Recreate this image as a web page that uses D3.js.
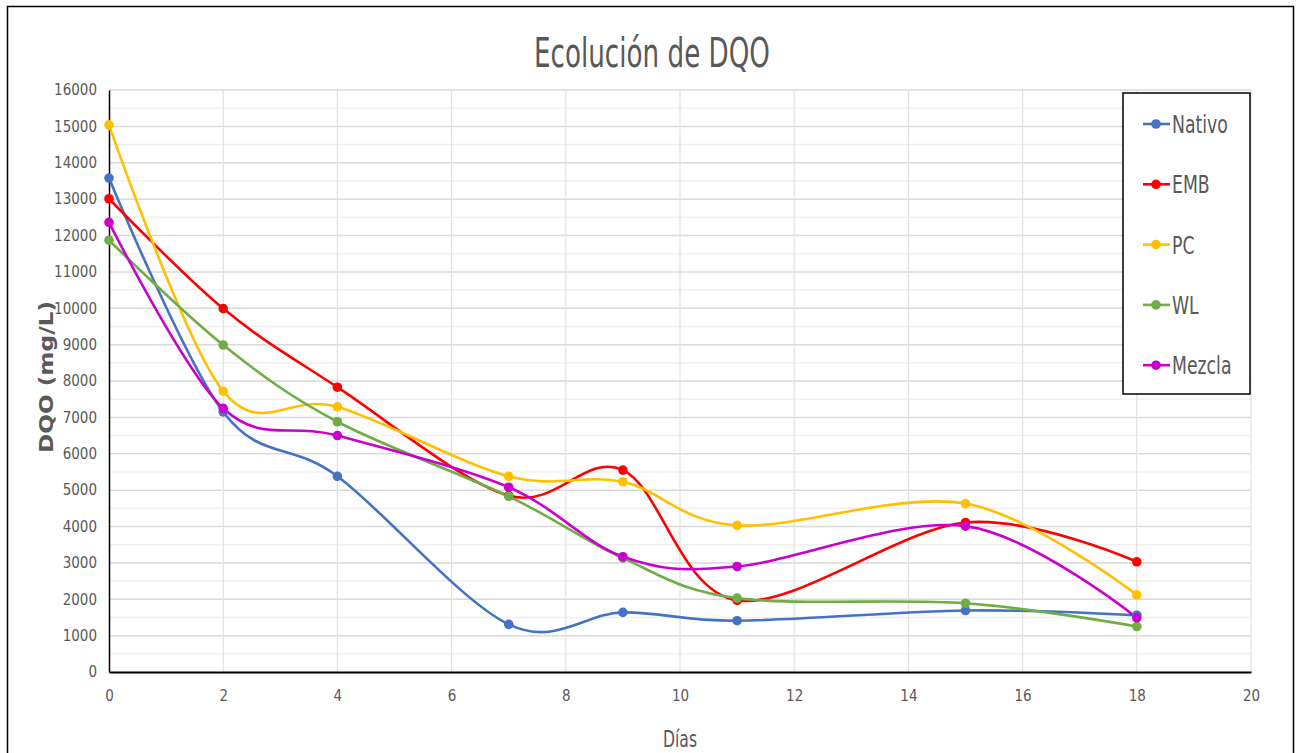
<!DOCTYPE html>
<html><head><meta charset="utf-8">
<script src="https://cdn.jsdelivr.net/npm/d3@7"></script>
<style>body{margin:0;background:#fff;} svg{display:block;}</style>
</head><body>
<script>
const days = [0, 2, 4, 7, 9, 11, 15, 18];
const seriesNames = ["Nativo", "EMB", "PC", "WL", "Mezcla"];
const nativo = [13580, 7150, 5380, 1310, 1640, 1410, 1690, 1560];
const emb    = [13010, 9990, 7830, 4850, 5550, 1970, 4110, 3030];
const pc     = [15040, 7720, 7290, 5380, 5230, 4030, 4630, 2120];
const wl     = [11870, 8990, 6880, 4830, 3130, 2030, 1890, 1250];
const mezcla = [12360, 7250, 6500, 5080, 3170, 2900, 4010, 1490];
const colors = ["#4472C4", "#FF0000", "#FFC000", "#70AD47", "#CC00CC"];
const xTicks = [0,2,4,6,8,10,12,14,16,18,20];
const yTicks = d3.range(0, 16001, 1000);
const yMinor = d3.range(500, 16000, 1000);
const allSeries = [nativo, emb, pc, wl, mezcla];

const W = 1299, H = 753;
const svg = d3.select("body").append("svg").attr("width", W).attr("height", H);
const font = "'Liberation Sans Narrow', 'DejaVu Sans Condensed', sans-serif";

function condense(sel, f) {
  sel.each(function () {
    const len = this.getComputedTextLength();
    d3.select(this).attr("textLength", len * f).attr("lengthAdjust", "spacingAndGlyphs");
  });
}

svg.append("rect").attr("x", 7.5).attr("y", 6.5).attr("width", 1286).attr("height", 800)
  .attr("fill", "#fff").attr("stroke", "#000").attr("stroke-width", 1.5);

const x = d3.scaleLinear().domain([0, 20]).range([109, 1251]);
const y = d3.scaleLinear().domain([0, 16000]).range([672, 90]);

svg.append("g").selectAll("line").data(yMinor).join("line")
  .attr("x1", x(0)).attr("x2", x(20)).attr("y1", d => y(d)).attr("y2", d => y(d))
  .attr("stroke", "#f0f0f0").attr("stroke-width", 1.5);
svg.append("g").selectAll("line").data(yTicks.slice(1)).join("line")
  .attr("x1", x(0)).attr("x2", x(20)).attr("y1", d => y(d)).attr("y2", d => y(d))
  .attr("stroke", "#d9d9d9").attr("stroke-width", 1.5);
svg.append("g").selectAll("line").data(xTicks.slice(1)).join("line")
  .attr("x1", d => x(d)).attr("x2", d => x(d)).attr("y1", y(0)).attr("y2", y(16000))
  .attr("stroke", "#e0e0e0").attr("stroke-width", 1.2);

const yAxis = svg.append("g").attr("transform", `translate(${x(0)},0)`)
  .call(d3.axisLeft(y).tickValues(yTicks).tickSize(0).tickPadding(12).tickFormat(d3.format("d")));
yAxis.select(".domain").attr("stroke", "#000").attr("stroke-width", 1.5);
yAxis.selectAll("text").attr("font-family", font).attr("font-size", 15).attr("fill", "#595959");

const xAxis = svg.append("g").attr("transform", `translate(0,${y(0)})`)
  .call(d3.axisBottom(x).tickValues(xTicks).tickSize(0).tickPadding(18));
xAxis.select(".domain").attr("stroke", "#000").attr("stroke-width", 2);
xAxis.selectAll("text").attr("font-family", font).attr("font-size", 15).attr("fill", "#595959");

const title = svg.append("text").attr("x", 652).attr("y", 67).attr("text-anchor", "middle")
  .attr("font-family", font).attr("font-size", 40).attr("fill", "#595959").text("Ecolución de DQO");
title.attr("textLength", 236).attr("lengthAdjust", "spacingAndGlyphs");

const xt = svg.append("text").attr("x", 680).attr("y", 747).attr("text-anchor", "middle")
  .attr("font-family", font).attr("font-size", 23).attr("fill", "#595959").text("Días");
xt.attr("textLength", 34).attr("lengthAdjust", "spacingAndGlyphs");

const yt = svg.append("text").attr("transform", "translate(53,377) rotate(-90)").attr("text-anchor", "middle")
  .attr("font-family", "'DejaVu Sans', sans-serif").attr("font-weight", "bold").attr("font-size", 20)
  .attr("fill", "#595959").text("DQO (mg/L)");
yt.attr("textLength", 152).attr("lengthAdjust", "spacingAndGlyphs");

const line = d3.line().x((d, i) => x(days[i])).y(d => y(d)).curve(d3.curveCardinal.tension(0));
allSeries.forEach((s, k) => {
  svg.append("path").attr("d", line(s)).attr("fill", "none").attr("stroke", colors[k]).attr("stroke-width", 2.6);
});
allSeries.forEach((s, k) => {
  svg.append("g").selectAll("circle").data(s).join("circle")
    .attr("cx", (d, i) => x(days[i])).attr("cy", d => y(d)).attr("r", 4.8).attr("fill", colors[k]);
});

const lg = svg.append("g");
lg.append("rect").attr("x", 1123).attr("y", 93).attr("width", 127).attr("height", 301)
  .attr("fill", "#fff").attr("stroke", "#000").attr("stroke-width", 1.5);
seriesNames.forEach((n, k) => {
  const ly = 124 + k * 60.3;
  lg.append("line").attr("x1", 1143).attr("x2", 1170).attr("y1", ly).attr("y2", ly)
    .attr("stroke", colors[k]).attr("stroke-width", 2.6);
  lg.append("circle").attr("cx", 1156).attr("cy", ly).attr("r", 4.8).attr("fill", colors[k]);
  const t = lg.append("text").attr("x", 1172).attr("y", ly + 9).attr("font-family", font)
    .attr("font-size", 24).attr("fill", "#595959").text(n);
  condense(t, 0.8);
});
</script>
</body></html>
